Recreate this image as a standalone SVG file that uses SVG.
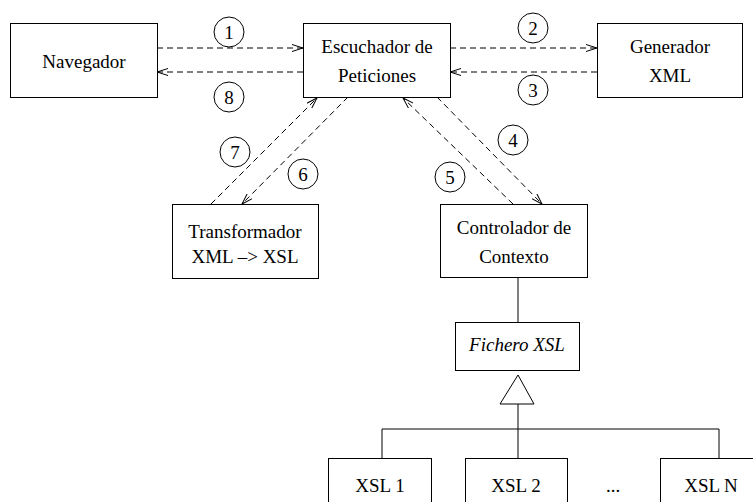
<svg xmlns="http://www.w3.org/2000/svg" width="753" height="502" viewBox="0 0 753 502">
<style>
.box{fill:#fff;stroke:#000;stroke-width:1}
.t{font-family:"Liberation Serif","Times New Roman",serif;font-size:19px;fill:#000;text-anchor:middle}
.it{font-style:italic}
.d{fill:none;stroke:#000;stroke-width:1;stroke-dasharray:6,4}
.s{fill:none;stroke:#000;stroke-width:1}
.c{fill:none;stroke:#000;stroke-width:1}
</style>
<defs>
<marker id="ah" markerWidth="12" markerHeight="8" refX="11" refY="4" orient="auto" markerUnits="userSpaceOnUse">
<path d="M0,0.5 L11,4 L0,7.5" fill="none" stroke="#000" stroke-width="1"/>
</marker>
</defs>
<g id="connectors">
<line class="d" x1="157" y1="48" x2="303" y2="48" marker-end="url(#ah)"/>
<line class="d" x1="303" y1="72" x2="157" y2="72" marker-end="url(#ah)"/>
<line class="d" x1="450" y1="48" x2="597" y2="48" marker-end="url(#ah)"/>
<line class="d" x1="597" y1="72" x2="450" y2="72" marker-end="url(#ah)"/>
<line class="d" x1="211" y1="204" x2="317" y2="98" marker-end="url(#ah)"/>
<line class="d" x1="348" y1="97" x2="242" y2="204" marker-end="url(#ah)"/>
<line class="d" x1="437" y1="97" x2="542" y2="204" marker-end="url(#ah)"/>
<line class="d" x1="513" y1="204" x2="403" y2="98" marker-end="url(#ah)"/>
<line class="s" x1="518" y1="278" x2="518" y2="322"/>
<polygon class="s" points="518,375 534,404 500,404" fill="#fff"/>
<line class="s" x1="518" y1="404" x2="518" y2="458"/>
<polyline class="s" points="382,458 382,429 719,429 719,458"/>
<g id="labels">
<circle class="c" cx="229" cy="32" r="15"/><text class="t" x="229" y="39">1</text>
<circle class="c" cx="229" cy="97" r="15"/><text class="t" x="229" y="104">8</text>
<circle class="c" cx="533" cy="28" r="15"/><text class="t" x="533" y="35">2</text>
<circle class="c" cx="533" cy="90" r="15"/><text class="t" x="533" y="97">3</text>
<circle class="c" cx="235" cy="152" r="15"/><text class="t" x="235" y="159">7</text>
<circle class="c" cx="303" cy="174" r="15"/><text class="t" x="303" y="181">6</text>
<circle class="c" cx="513" cy="140" r="15"/><text class="t" x="513" y="147">4</text>
<circle class="c" cx="450" cy="177" r="15"/><text class="t" x="450" y="184">5</text>
</g>
</g>
<g id="navegador"><rect class="box" x="10.5" y="23.5" width="147" height="74"/><text class="t" x="84" y="68">Navegador</text></g>
<g id="escuchador"><rect class="box" x="303.5" y="23.5" width="147" height="74"/><text class="t" x="377" y="53">Escuchador de</text><text class="t" x="377" y="82">Peticiones</text></g>
<g id="generador"><rect class="box" x="597.5" y="23.5" width="145" height="74"/><text class="t" x="670" y="53">Generador</text><text class="t" x="670" y="82">XML</text></g>
<g id="transformador"><rect class="box" x="172.5" y="204.5" width="146" height="74"/><text class="t" x="245" y="238">Transformador</text><text class="t" x="245" y="263">XML –&gt; XSL</text></g>
<g id="controlador"><rect class="box" x="440.5" y="204.5" width="147" height="73"/><text class="t" x="514" y="234">Controlador de</text><text class="t" x="514" y="263">Contexto</text></g>
<g id="fichero"><rect class="box" x="455.5" y="322.5" width="124" height="48"/><text class="t it" x="517" y="351">Fichero XSL</text></g>
<g id="xsl1"><rect class="box" x="328.5" y="458.5" width="103" height="60"/><text class="t" x="380" y="492">XSL 1</text></g>
<g id="xsl2"><rect class="box" x="465.5" y="458.5" width="102" height="60"/><text class="t" x="516" y="492">XSL 2</text></g>
<text class="t" x="613" y="492">...</text>
<g id="xsln"><rect class="box" x="660.5" y="458.5" width="110" height="60"/><text class="t" x="711" y="492">XSL N</text></g>
</svg>
